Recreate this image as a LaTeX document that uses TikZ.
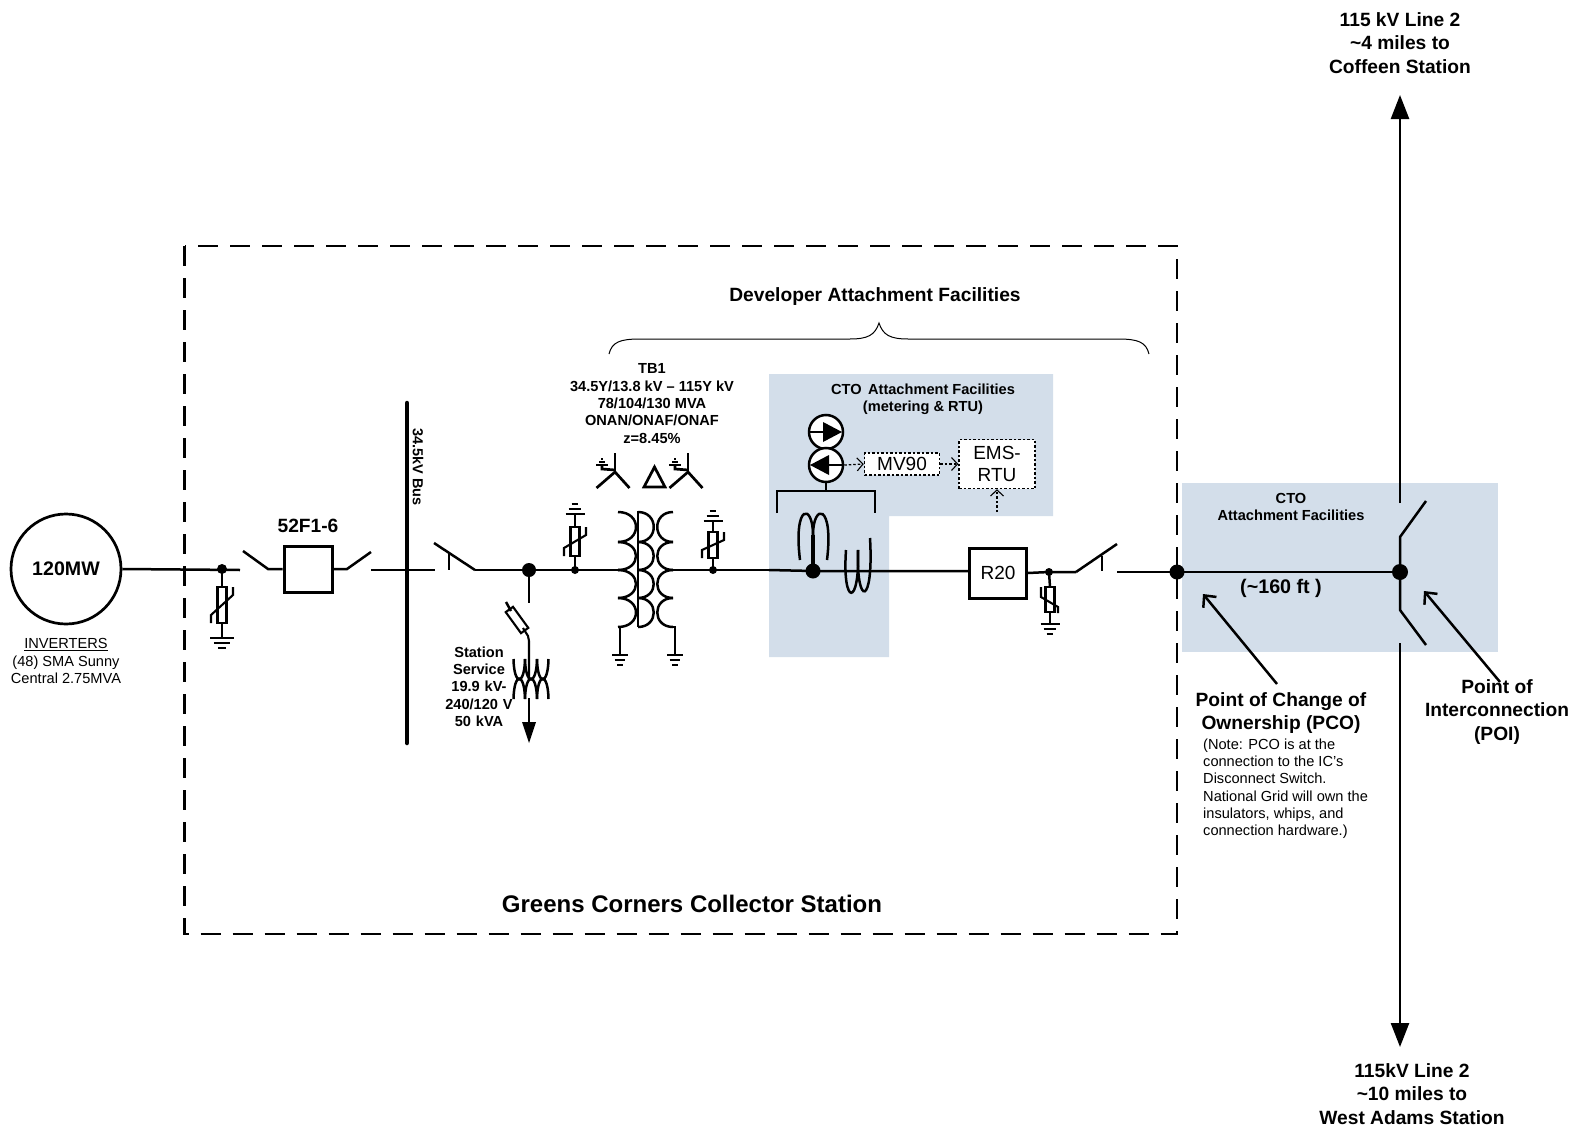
\documentclass[tikz,border=0pt]{standalone}
\usepackage{fontspec}
\setmainfont{Liberation Sans}
\usetikzlibrary{arrows.meta,calc}
\definecolor{ctoblue}{HTML}{D3DEEA}
\newcommand{\fs}[1]{\fontsize{#1}{#1}\selectfont}
% ground: x, top y, half width, direction (+1 down, -1 up)
\newcommand{\gndsym}[4]{%
  \draw[wire] ({#1-#3},#2) -- ({#1+#3},#2);
  \draw[wire] ({#1-#3*0.68},{#2+#4*5}) -- ({#1+#3*0.68},{#2+#4*5});
  \draw[wire] ({#1-#3*0.35},{#2+#4*10}) -- ({#1+#3*0.35},{#2+#4*10});}
% arrester: x centre, top y, bottom y, slash dir
\newcommand{\arrbox}[4]{%
  \draw[thinwire] ({#1-4.5},#2) rectangle ({#1+4.5},#3);
  \draw[thinwire] ({#1-#4*11},#3) -- ({#1-#4*11},{#3-8}) -- ({#1+#4*11},{#2+8}) -- ({#1+#4*11},#2);}
\newcommand{\coilarc}[4]{\draw[wire] (#1,#2) .. controls ({#1+#4},#2) and ({#1+#4},#3) .. (#1,#3);}
\tikzset{
  wire/.style={line width=2.5pt,black},
  thinwire/.style={line width=2.1pt,black},
  lbl/.style={inner sep=0pt,align=center,font=\bfseries\fs{19.2}},
  sml/.style={inner sep=0pt,align=center,font=\bfseries\fs{14.6}},
  reg/.style={inner sep=0pt,align=center,font=\fs{14.6}},
  dot/.style={circle,fill=black,inner sep=0pt,minimum size=#1},
  dotbox/.style={draw,dash pattern=on 2.5pt off 2pt,line width=1.5pt,fill=white,inner sep=0pt},
  dotarrow/.style={dash pattern=on 2.5pt off 2pt,line width=1.3pt,-{Straight Barb[length=6pt,width=13pt,line width=1.1pt]}},
  callout/.style={line width=2.5pt,-{Straight Barb[length=9pt,width=17pt,line width=2.5pt]}},
  bigarrow/.style={line width=2.5pt,-{Triangle[length=24pt,width=18pt]}}
}
\begin{document}
\begin{tikzpicture}[x=1pt,y=-1pt]
\useasboundingbox (0,0) rectangle (1575,1127);
% shaded regions
\fill[ctoblue] (769,374) -- (1053,374) -- (1053,516) -- (889,516) -- (889,657) -- (769,657) -- cycle;
\fill[ctoblue] (1182,483) rectangle (1498,652);
% station boundary
\draw[line width=2.7pt,dash pattern=on 20pt off 12pt] (184.5,246) rectangle (1177,934);
% generator
\node[circle,draw,line width=2.7pt,minimum size=110pt,inner sep=0pt,font=\bfseries\fs{19.6}] (gen) at (66,569) {120MW};
\node[reg] (inv) at (66,661) {\underline{INVERTERS}\\[2.7pt](48) SMA Sunny\\[2.7pt]Central 2.75MVA};
% left feeder
\coordinate (brkL) at (240,570);
\node[dot=10pt] (d1) at (222,569) {};
\draw[wire] (gen.east) -- (brkL);
\draw[wire] (d1.center) -- (222,587);
\arrbox{222}{587}{623}{1}
\draw[wire] (222,623) -- (222,638);
\gndsym{222}{638}{12}{1}
% breaker
\node[draw,line width=3pt,minimum width=48pt,minimum height=46pt,inner sep=0pt] (brk) at (308,569) {};
\node[lbl] (brklbl) at (308,526) {52F1-6};
\draw[wire] (243,551) -- (268,569) -- (brk.west);
\draw[wire] (brk.east) -- (347,569) -- (371,552);
% bus
\coordinate (busT) at (407,403);
\coordinate (busB) at (407,743);
\draw[line width=4.5pt,line cap=round] (busT) -- (busB);
\node[inner sep=0pt,rotate=-90,font=\bfseries\fs{14.5}] (buslbl) at (418,467) {34.5kV Bus};
\draw[wire] (371,570) -- (435,570);
% disconnect
\draw[wire] (434,543) -- (475,570);
\draw[wire] (449,553) -- (449,570);
\node[dot=14pt] (d2) at (529,570) {};
\node[dot=8pt] (d3) at (575,570) {};
\node[dot=8pt] (d4) at (713,570) {};
\draw[wire] (475,570) -- (d2.center) -- (d3.center) -- (618,570);
% station service
\draw[wire] (d2.center) -- (529,603);
\draw[wire] (506,602) -- (511,611);
\draw[thinwire,rotate around={-54:(517,620)}] (504,615.5) rectangle (530,624.5);
\draw[thinwire] (523,628) -- (528,636) -- (529,641) -- (529,679);
\foreach \a/\b in {513.5/525,525/537,537/548.5}{
  \draw[wire] (\a,659) .. controls (\a+0.5,686) and (\b-0.5,686) .. (\b,659);
  \draw[wire] (\a,699) .. controls (\a+0.5,672) and (\b-0.5,672) .. (\b,699);
}
\coordinate (ssTip) at (529,743);
\draw[wire] (529,698) -- (529,722);
\fill (522,722) -- (536,722) -- (ssTip) -- cycle;
\node[sml,text width=80pt] (sslbl) at (479,686.5) {Station\\[2.7pt]Service\\[2.7pt]19.9 kV-\\[2.7pt]240/120 V\\[2.7pt]50 kVA};
% arrester 2
\draw[wire] (d3.center) -- (575,556);
\arrbox{575}{527}{556}{1}
\draw[wire] (575,527) -- (575,514);
\gndsym{575}{514}{9.5}{-1}
% TB1
\foreach \t/\b in {512/542,542/570,570/598,598/627}{
  \coilarc{618}{\t}{\b}{24}
  \coilarc{638}{\t}{\b}{21}
  \coilarc{673}{\t}{\b}{-21}
}
\draw[wire] (638,511) -- (638,627);
\draw[wire] (620,627) -- (620,655);
\gndsym{620}{655}{8}{1}
\draw[wire] (673,627) -- (675,627) -- (675,655);
\gndsym{675}{655}{8}{1}
\node[sml] (tblbl) at (652,403.5) {TB1\\[2.7pt]34.5Y/13.8 kV -- 115Y kV\\[2.7pt]78/104/130 MVA\\[2.7pt]ONAN/ONAF/ONAF\\[2.7pt]z=8.45\%};
% wye delta symbols
\foreach \c in {615,688}{
  \draw[line width=2.7pt] (\c-18.5,488) -- (\c,472) -- (\c+14.5,488);
  \draw[line width=2.7pt] (\c,472) -- (\c,453);
  \draw[line width=2.7pt] (\c,470) -- (\c-13,469) -- (\c-13,465);
  \draw[wire] (\c-19,465) -- (\c-7,465);
  \draw[wire] (\c-16,462) -- (\c-10,462);
  \draw[wire] (\c-14,459) -- (\c-12,459);
}
\draw[line width=2.7pt] (644,487) -- (665,487) -- (654.5,467) -- cycle;
% arrester 3
\draw[wire] (673,570) -- (d4.center) -- (769,570);
\draw[wire] (d4.center) -- (713,558);
\arrbox{713}{532}{558}{1}
\draw[wire] (713,532) -- (713,521);
\gndsym{713}{521}{9.5}{-1}
% CT group
\node[dot=15pt] (d5) at (813,571) {};
\draw[wire] (769,570) -- (d5.center) -- (969,571);
\draw[line width=3.5pt] (d5.center) -- (813,535);
\draw[wire] (800,560) .. controls (793,503) and (813,503) .. (813,535);
\draw[wire] (813,535) .. controls (813,503) and (834,503) .. (827,560);
\draw[wire] (846,550) .. controls (842,607) and (860,607) .. (858,550);
\draw[wire] (858,550) .. controls (856,607) and (874,607) .. (870,538);
\draw[wire] (858,553) -- (858,581);
% metering
\coordinate (brL) at (777,513);
\coordinate (brR) at (875,513);
\coordinate (brM) at (826,491);
\draw[wire] (brL) -- (777,491) -- (875,491) -- (brR);
\node[circle,draw,line width=2.5pt,fill=white,minimum size=34pt,inner sep=0pt] (m1) at (826,432) {};
\node[circle,draw,line width=2.5pt,fill=white,minimum size=34pt,inner sep=0pt] (m2) at (826,465) {};
\draw[wire] (m2.south) -- (brM);
\draw[wire] (m1.west) -- (826,432);
\fill (823,422) -- (842,432) -- (823,442) -- cycle;
\draw[wire] (m2.east) -- (826,465);
\fill (829,455) -- (810,465) -- (829,475) -- cycle;
\node[sml] (cto1) at (923,399.5) {CTO\,\ Attachment Facilities\\[2.7pt](metering \& RTU)};
\node[dotbox,minimum width=75pt,minimum height=22pt,font=\fs{19}] (mv) at (902,464) {MV90};
\node[dotbox,minimum width=76pt,minimum height=49pt,font=\fs{19},align=center] (ems) at (997,464) {EMS-\\[3pt]RTU};
\draw[dotarrow] (m2.east) -- (mv.west);
\draw[dotarrow] (mv.east) -- (ems.west);
\coordinate (emsIn) at (997,512);
\draw[dotarrow] (emsIn) -- (ems.south);
% R20 and right side
\node[draw,line width=3pt,fill=white,minimum width=57pt,minimum height=50pt,inner sep=0pt,font=\fs{19}] (r20) at (998,573) {R20};
\node[dot=8pt] (d6) at (1049,572) {};
\draw[wire] (r20.east) -- (d6.center) -- (1076,572);
\draw[wire] (d6.center) -- (1050,587);
\draw[thinwire] (1045.5,587) rectangle (1054.5,612);
\draw[thinwire] (1041,587) -- (1041,597) -- (1058,607) -- (1058,613);
\draw[wire] (1050,612) -- (1050,624);
\gndsym{1050}{624}{9.5}{1}
\draw[wire] (1076,572) -- (1117,544);
\draw[wire] (1102,556) -- (1102,571);
% PCO-POI
\node[dot=15pt] (pco) at (1177,572) {};
\node[dot=16pt] (poi) at (1400,572) {};
\coordinate (swS) at (1117,572);
\draw[wire] (swS) -- (pco.center) -- (poi.center);
\node[sml] (cto2) at (1291,507) {CTO\\[2.7pt]Attachment Facilities};
\node[inner sep=0pt,font=\bfseries\fs{19.7}] (len) at (1281,588) {(\textasciitilde160 ft )};
% line 115 kV
\coordinate (aTop) at (1400,95);
\coordinate (aBot) at (1400,1047);
\coordinate (swT) at (1400,503);
\coordinate (swB) at (1400,643);
\draw[bigarrow] (swT) -- (aTop);
\draw[bigarrow] (swB) -- (aBot);
\draw[wire] (1426,501) -- (1400,537) -- (poi.center) -- (1400,610) -- (1426,645);
% callouts
\coordinate (pcoTail) at (1277,684);
\coordinate (pcoTip) at (1203,594);
\coordinate (poiTail) at (1500,682);
\coordinate (poiTip) at (1424,591);
\draw[callout] (pcoTail) -- (pcoTip);
\draw[callout] (poiTail) -- (poiTip);
% labels
\node[lbl] (l115) at (1400,43) {115 kV Line 2\\[4.2pt]\textasciitilde4 miles to\\[4.2pt]Coffeen Station};
\node[lbl] (l115b) at (1412,1094) {115kV Line 2\\[4.2pt]\textasciitilde10 miles to\\[4.2pt]West Adams Station};
\node[lbl] (pcolbl) at (1281,713) {Point of Change of\\[4.2pt]Ownership (PCO)};
\node[reg,align=left,anchor=north west,font=\fs{14.6}] (note) at (1203,738.5) {(Note: PCO is at the\\[2.7pt]connection to the IC’s\\[2.7pt]Disconnect Switch.\\[2.7pt]National Grid will own the\\[2.7pt]insulators, whips, and\\[2.7pt]connection hardware.)};
\node[lbl] (poilbl) at (1497,712) {Point of\\[4.2pt]Interconnection\\[4.2pt](POI)};
\node[inner sep=0pt,font=\bfseries\fs{24}] (stn) at (692,904) {Greens Corners Collector Station};
\node[lbl] (dev) at (875,297) {Developer Attachment Facilities};
% brace
\coordinate (bL) at (609,354);
\coordinate (bM) at (879,323);
\coordinate (bR) at (1149,354);
\draw[line width=1pt] (bL) .. controls (612,342) and (620,339) .. (640,339) -- (850,339) .. controls (868,339) and (875,335) .. (bM) .. controls (883,335) and (890,339) .. (908,339) -- (1118,339) .. controls (1138,339) and (1146,342) .. (bR);
\end{tikzpicture}
\end{document}
